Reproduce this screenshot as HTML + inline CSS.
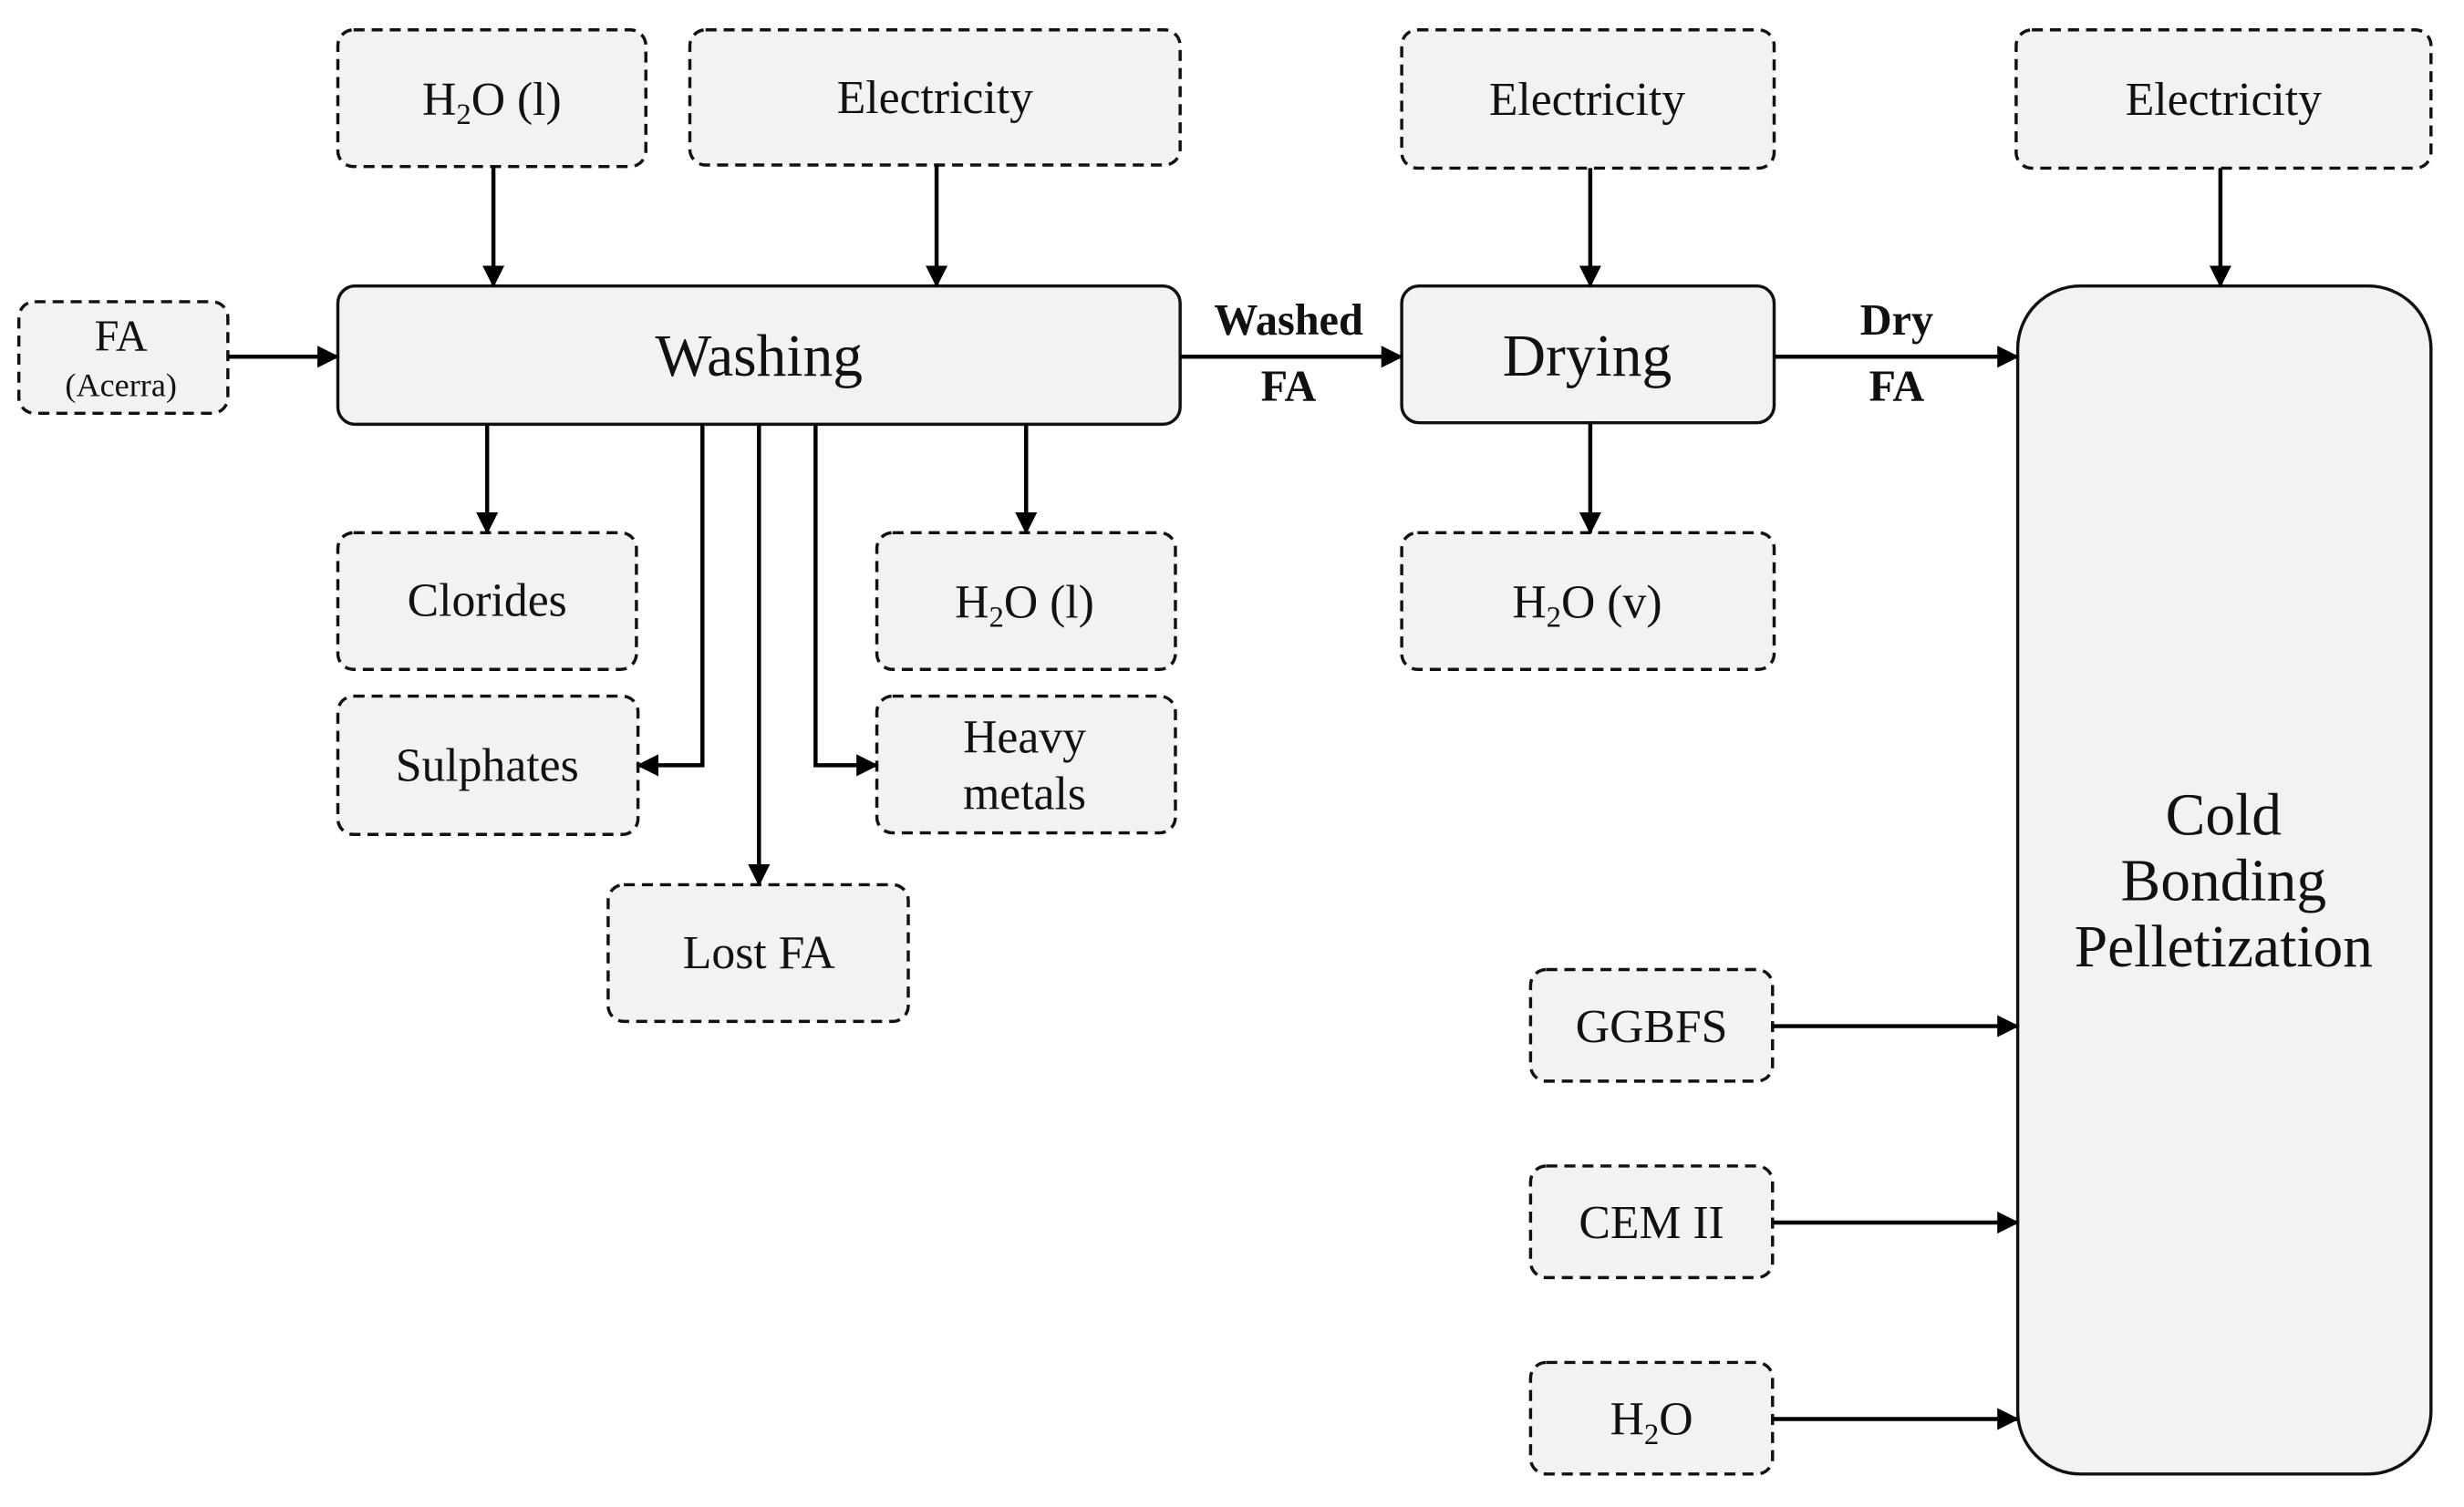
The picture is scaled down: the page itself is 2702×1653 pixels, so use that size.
<!DOCTYPE html>
<html><head><meta charset="utf-8"><style>
html,body{margin:0;padding:0;background:#fff;}
svg{display:block}
text{font-family:"Liberation Serif",serif;fill:#111;text-anchor:middle}
.d{fill:#f2f2f2;stroke:#111;stroke-width:2;stroke-dasharray:7,4.5}
.s{fill:#f2f2f2;stroke:#111;stroke-width:2}
.l{stroke:#000;stroke-width:2.6;fill:none}
.t{font-size:30px}
.b{font-size:38px}
.bold{font-size:28px;font-weight:bold}
</style></head><body>
<svg width="2702" height="1653" viewBox="0 0 1568 959" preserveAspectRatio="none" xmlns="http://www.w3.org/2000/svg">
<defs><marker id="a" markerWidth="14" markerHeight="14" refX="13" refY="7" orient="auto" markerUnits="userSpaceOnUse"><path d="M0,0 L14,7 L0,14 z" fill="#000"/></marker></defs>
<!-- boxes -->
<rect class="d" x="215" y="19" width="196" height="87" rx="10"/>
<text class="t" x="313" y="73">H<tspan font-size="19" dy="6">2</tspan><tspan dy="-6">O (l)</tspan></text>
<rect class="d" x="439" y="19" width="312" height="86" rx="10"/>
<text class="t" x="595" y="72">Electricity</text>
<rect class="d" x="892" y="19" width="237" height="88" rx="10"/>
<text class="t" x="1010" y="73">Electricity</text>
<rect class="d" x="1283" y="19" width="264" height="88" rx="10"/>
<text class="t" x="1415" y="73">Electricity</text>
<rect class="d" x="12" y="192" width="133" height="71" rx="10"/>
<text x="77" y="223" font-size="28">FA</text>
<text x="77" y="252" font-size="21">(Acerra)</text>
<rect class="s" x="215" y="182" width="536" height="88" rx="11"/>
<text class="b" x="483" y="239">Washing</text>
<rect class="s" x="892" y="182" width="237" height="87" rx="11"/>
<text class="b" x="1010" y="239">Drying</text>
<rect class="s" x="1284" y="182" width="263" height="756" rx="40"/>
<text class="b" x="1415" y="531">Cold</text>
<text class="b" x="1415" y="573">Bonding</text>
<text class="b" x="1415" y="615">Pelletization</text>
<rect class="d" x="215" y="339" width="190" height="87" rx="10"/>
<text class="t" x="310" y="392">Clorides</text>
<rect class="d" x="558" y="339" width="190" height="87" rx="10"/>
<text class="t" x="652" y="393">H<tspan font-size="19" dy="6">2</tspan><tspan dy="-6">O (l)</tspan></text>
<rect class="d" x="215" y="443" width="191" height="88" rx="10"/>
<text class="t" x="310" y="497">Sulphates</text>
<rect class="d" x="558" y="443" width="190" height="87" rx="10"/>
<text class="t" x="652" y="479">Heavy</text>
<text class="t" x="652" y="515">metals</text>
<rect class="d" x="387" y="563" width="191" height="87" rx="10"/>
<text class="t" x="483" y="616">Lost FA</text>
<rect class="d" x="892" y="339" width="237" height="87" rx="10"/>
<text class="t" x="1010" y="393">H<tspan font-size="19" dy="6">2</tspan><tspan dy="-6">O (v)</tspan></text>
<rect class="d" x="974" y="617" width="154" height="71" rx="10"/>
<text class="t" x="1051" y="663">GGBFS</text>
<rect class="d" x="974" y="742" width="154" height="71" rx="10"/>
<text class="t" x="1051" y="788">CEM II</text>
<rect class="d" x="974" y="867" width="154" height="71" rx="10"/>
<text class="t" x="1051" y="913">H<tspan font-size="19" dy="6">2</tspan><tspan dy="-6">O</tspan></text>
<!-- connectors -->
<path class="l" marker-end="url(#a)" d="M314,106 V182"/>
<path class="l" marker-end="url(#a)" d="M596,105 V182"/>
<path class="l" marker-end="url(#a)" d="M145,227 H215"/>
<path class="l" marker-end="url(#a)" d="M310,270 V339"/>
<path class="l" marker-end="url(#a)" d="M447,270 V487 H406"/>
<path class="l" marker-end="url(#a)" d="M483,270 V563"/>
<path class="l" marker-end="url(#a)" d="M519,270 V487 H558"/>
<path class="l" marker-end="url(#a)" d="M653,270 V339"/>
<path class="l" marker-end="url(#a)" d="M751,227 H892"/>
<text class="bold" x="820" y="213">Washed</text>
<text class="bold" x="820" y="255">FA</text>
<path class="l" marker-end="url(#a)" d="M1012,107 V182"/>
<path class="l" marker-end="url(#a)" d="M1012,269 V339"/>
<path class="l" marker-end="url(#a)" d="M1129,227 H1284"/>
<text class="bold" x="1207" y="213">Dry</text>
<text class="bold" x="1207" y="255">FA</text>
<path class="l" marker-end="url(#a)" d="M1413,107 V182"/>
<path class="l" marker-end="url(#a)" d="M1128,653 H1284"/>
<path class="l" marker-end="url(#a)" d="M1128,778 H1284"/>
<path class="l" marker-end="url(#a)" d="M1128,903 H1284"/>
</svg>
</body></html>
